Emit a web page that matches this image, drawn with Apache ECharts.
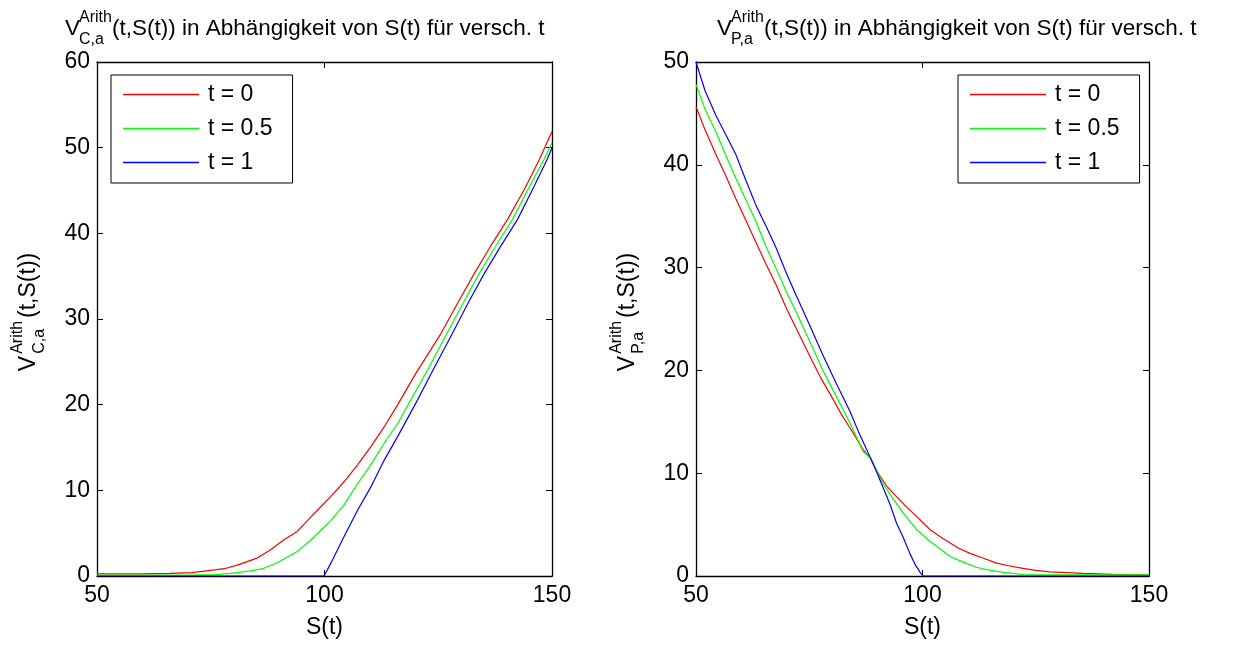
<!DOCTYPE html>
<html>
<head>
<meta charset="utf-8">
<script src="https://cdn.jsdelivr.net/npm/echarts@6/dist/echarts.min.js"></script>
<style>
  html, body { margin: 0; padding: 0; background: #ffffff; }
  #chart { width: 1238px; height: 646px; }
</style>
</head>
<body>
<div id="chart"></div>
<script>
// Asian option values (arithmetic average) against the underlying S(t) for several t
const seriesNames = ['t = 0', 't = 0.5', 't = 1'];
const seriesColors = ['#ff0000', '#00ff00', '#0000ff'];

// Call: [S(t), V]
const callT0 = [[50,0.25],[60,0.25],[66,0.3],[71,0.4],[74,0.6],[78,0.85],[81,1.3],[85,2.05],[88,3.0],[91,4.2],[94,5.2],[96.3,6.5],[98.5,7.7],[101.4,9.3],[104.3,11.0],[107.3,13.0],[110.2,15.1],[113.1,17.4],[116.1,20.0],[120,23.6],[125.6,28.3],[129,31.6],[132.9,35.3],[136.5,38.5],[140.2,41.6],[144,45.2],[147.2,48.6],[150,51.9]];
const callT05 = [[50,0.1],[60,0.1],[70,0.1],[76,0.15],[79.4,0.3],[83.8,0.6],[86.7,0.9],[89.6,1.55],[94,2.85],[97,4.2],[101.4,6.5],[104.3,8.3],[107.3,10.8],[110.2,13.0],[113.1,15.5],[116.1,17.8],[118.9,20.5],[122.5,23.9],[126.9,28.3],[130.5,31.9],[134,35.3],[137.5,38.4],[141.3,41.6],[145,45.4],[148.2,48.6],[150,50.6]];
const callT1 = [[50,0],[99.9,0],[101.4,1.5],[104.3,4.6],[107.3,7.7],[110.2,10.4],[113.1,13.5],[116.1,16.3],[120.4,20.5],[124,24.2],[128.1,28.3],[131.5,31.8],[135.1,35.3],[138.5,38.3],[142.4,41.6],[146,45.4],[148.9,48.6],[150,50.0]];

// Put: [S(t), V]
const putT0 = [[50,45.65],[52,43.4],[54.4,41.0],[56.5,39.0],[58.8,36.7],[61,34.6],[63.2,32.5],[65.5,30.3],[67.7,28.3],[70,26.0],[72.1,24.1],[75,21.5],[77.5,19.3],[80,17.4],[82,15.8],[84,14.4],[86.9,12.3],[88.6,11.4],[89.9,10.2],[92,8.8],[94.3,7.7],[96.5,6.7],[98.7,5.8],[101.7,4.5],[104,3.8],[106.1,3.2],[108,2.7],[110.5,2.2],[113,1.8],[116.4,1.25],[119,1.0],[122.2,0.75],[125,0.55],[128.1,0.4],[135.5,0.25],[142,0.15],[150,0.1]];
const putT05 = [[50,47.8],[52,45.4],[54.4,43.2],[56.5,41.0],[58.8,38.7],[61,36.6],[63.2,34.5],[65.5,32.0],[67.7,29.9],[70,27.6],[72.1,25.7],[74.5,23.4],[76.5,21.5],[78,20.0],[80,18.3],[82,16.6],[84,14.85],[86.9,12.1],[88.6,11.4],[91.3,9.0],[93.5,7.5],[95.8,6.1],[98.7,4.5],[101.7,3.35],[104,2.6],[106.1,1.9],[109,1.35],[111.9,0.85],[114.5,0.6],[117.8,0.35],[120,0.25],[123,0.1],[150,0.1]];
const putT1 = [[50,50.0],[52,47.2],[54.4,44.8],[56.5,43.0],[58.8,41.0],[61,38.5],[63.2,36.1],[65.5,34.0],[67.7,31.9],[70,29.4],[72.1,27.3],[75,24.5],[78,21.5],[81,18.7],[84,16.0],[86,13.9],[88.6,11.4],[90,10.0],[91.3,8.6],[92.8,7.0],[94.3,5.1],[95.8,3.7],[97.2,2.2],[98.4,1.1],[99.4,0.4],[100.1,0],[150,0]];

const sRange = [50, 150];
const sInterval = 50;
const callRange = [0, 60];
const putRange = [0, 50];
const valueInterval = 10;

const titleRest = '(t,S(t)) in Abhängigkeit von S(t) für versch. t';
const labelRest = '(t,S(t))';
const xName = 'S(t)';

const FONT = '"Liberation Sans", Arial, Helvetica, sans-serif';
const FS = 23;
const TITLE_FS = 22.5;
const FS_SMALL = 16;
const SUP_SHIFT = -13;
const SUB_SHIFT = 9;

const chart = echarts.init(document.getElementById('chart'), null, { renderer: 'canvas' });

const measureCtx = document.createElement('canvas').getContext('2d');
function textWidth(str, size) {
  measureCtx.font = size + 'px ' + FONT;
  return measureCtx.measureText(str).width;
}

// Layout of "V" with stacked super/subscript followed by the remaining text
function mathParts(sup, sub, rest, size, gap) {
  const vw = textWidth('V', size);
  const scriptX = vw - 1 + gap;
  const scriptW = Math.max(textWidth(sup, FS_SMALL), textWidth(sub, FS_SMALL));
  const restX = scriptX + scriptW + gap;
  return { scriptX: scriptX, restX: restX, total: restX + textWidth(rest, size) };
}

// Group whose local origin sits on the baseline at the start of "V"
function mathLabel(x, y, rotation, sup, sub, rest, size, gap) {
  const p = mathParts(sup, sub, rest, size, gap);
  const t = (text, tx, baseline, fs) => ({
    type: 'text',
    x: tx,
    y: baseline - 0.34 * fs,
    style: { text: text, fill: '#000', font: fs + 'px ' + FONT, align: 'left', verticalAlign: 'middle' }
  });
  return {
    type: 'group',
    x: x, y: y, rotation: rotation,
    silent: true,
    children: [
      t('V', 0, 0, size),
      t(sup, p.scriptX, SUP_SHIFT, FS_SMALL),
      t(sub, p.scriptX, SUB_SHIFT, FS_SMALL),
      t(rest, p.restX, 0, size)
    ]
  };
}

// Rotated axis label centred vertically on the plot box
function yLabel(baselineX, centerY, sup, sub) {
  const gap = 3;
  const p = mathParts(sup, sub, labelRest, FS, gap);
  return mathLabel(baselineX, centerY + p.total / 2, Math.PI / 2, sup, sub, labelRest, FS, gap);
}

function xAxisDef(gridIndex, position, withLabels) {
  return {
    type: 'value', gridIndex: gridIndex, position: position,
    min: sRange[0], max: sRange[1], interval: sInterval,
    axisLine: { show: true, onZero: false, lineStyle: { color: '#000', width: 1.3 } },
    axisTick: { show: true, inside: true, length: 6, lineStyle: { color: '#000', width: 1 } },
    axisLabel: { show: withLabels, color: '#000', fontSize: FS, fontFamily: FONT, margin: 8 },
    splitLine: { show: false },
    name: withLabels ? xName : '',
    nameLocation: 'middle', nameGap: 40,
    nameTextStyle: { color: '#000', fontSize: FS, fontFamily: FONT }
  };
}

function yAxisDef(gridIndex, position, range, withLabels) {
  return {
    type: 'value', gridIndex: gridIndex, position: position,
    min: range[0], max: range[1], interval: valueInterval,
    axisLine: { show: true, onZero: false, lineStyle: { color: '#000', width: 1.3 } },
    axisTick: { show: true, inside: true, length: 6, lineStyle: { color: '#000', width: 1 } },
    axisLabel: { show: withLabels, color: '#000', fontSize: FS, fontFamily: FONT, margin: 7 },
    splitLine: { show: false }
  };
}

function lineSeries(name, color, data, axisIdx) {
  return {
    type: 'line', name: name, data: data,
    xAxisIndex: axisIdx, yAxisIndex: axisIdx,
    showSymbol: false, symbol: 'none',
    lineStyle: { color: color, width: 1.2 },
    itemStyle: { color: color },
    emphasis: { disabled: true },
    animation: false
  };
}

function legendDef(left, top) {
  return {
    data: seriesNames.map((n) => ({ name: n, icon: 'rect' })),
    orient: 'vertical', left: left, top: top,
    padding: [8, 20, 9, 12], itemWidth: 76, itemHeight: 1.4, itemGap: 11,
    borderColor: '#000', borderWidth: 1, backgroundColor: '#fff',
    selectedMode: false,
    textStyle: { color: '#000', fontSize: FS, fontFamily: FONT, padding: [0, 0, 0, 4] }
  };
}

const option = {
  backgroundColor: '#ffffff',
  animation: false,
  grid: [
    { left: 97, top: 62, width: 455, height: 514, containLabel: false },
    { left: 696, top: 62, width: 453, height: 514, containLabel: false }
  ],
  xAxis: [
    xAxisDef(0, 'bottom', true), xAxisDef(0, 'top', false),
    xAxisDef(1, 'bottom', true), xAxisDef(1, 'top', false)
  ],
  yAxis: [
    yAxisDef(0, 'left', callRange, true), yAxisDef(0, 'right', callRange, false),
    yAxisDef(1, 'left', putRange, true), yAxisDef(1, 'right', putRange, false)
  ],
  legend: [legendDef(111, 75), legendDef(958, 75)],
  series: [
    lineSeries(seriesNames[0], seriesColors[0], callT0, 0),
    lineSeries(seriesNames[1], seriesColors[1], callT05, 0),
    lineSeries(seriesNames[2], seriesColors[2], callT1, 0),
    lineSeries(seriesNames[0], seriesColors[0], putT0, 2),
    lineSeries(seriesNames[1], seriesColors[1], putT05, 2),
    lineSeries(seriesNames[2], seriesColors[2], putT1, 2)
  ],
  graphic: [
    mathLabel(65, 36, 0, 'Arith', 'C,a', titleRest, TITLE_FS, 0),
    mathLabel(717, 36, 0, 'Arith', 'P,a', titleRest, TITLE_FS, 0),
    yLabel(36, 312, 'Arith', 'C,a'),
    yLabel(635, 312, 'Arith', 'P,a')
  ]
};

chart.setOption(option);
</script>
</body>
</html>
